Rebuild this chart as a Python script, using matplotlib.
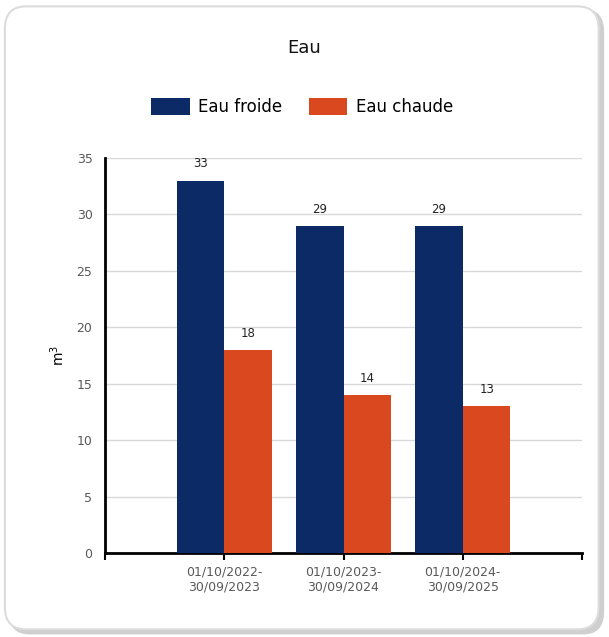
import numpy as np
import matplotlib.pyplot as plt
from matplotlib.patches import FancyBboxPatch, Patch

# Données
periodes = ['01/10/2022-\n30/09/2023', '01/10/2023-\n30/09/2024', '01/10/2024-\n30/09/2025']
eau_froide = [33, 29, 29]
eau_chaude = [18, 14, 13]

couleur_froide = '#0c2a66'
couleur_chaude = '#d9481f'

fig = plt.figure(figsize=(6.09, 6.37), dpi=100)

# Cadre arrondi avec ombre (derrière les axes)
ombre = FancyBboxPatch((0.014, 0.004), 0.978, 0.982, boxstyle='round,pad=0,rounding_size=0.035',
                       transform=fig.transFigure, facecolor='#cfcfcf', edgecolor='none', zorder=-2)
cadre = FancyBboxPatch((0.008, 0.012), 0.975, 0.978, boxstyle='round,pad=0,rounding_size=0.035',
                       transform=fig.transFigure, facecolor='white', edgecolor='#dcdcdc', lw=1.5, zorder=-1)
fig.patches.extend([ombre, cadre])

ax = fig.add_axes([0.1724, 0.1319, 0.7833, 0.6201])
ax.set_facecolor('none')

x = np.arange(1, len(periodes) + 1)
largeur = 0.4
b1 = ax.bar(x - largeur / 2, eau_froide, largeur, color=couleur_froide, zorder=3)
b2 = ax.bar(x + largeur / 2, eau_chaude, largeur, color=couleur_chaude, zorder=3)

for barres in (b1, b2):
    for b in barres:
        ax.text(b.get_x() + b.get_width() / 2, b.get_height() + 0.9, f'{b.get_height():g}',
                ha='center', va='bottom', fontsize=8.5, color='#222222')

ax.set_xlim(0, 4)
ax.set_ylim(0, 35)
ax.set_yticks(range(0, 36, 5))
ax.set_xticks([0, 1, 2, 3, 4])
ax.set_xticklabels([''] + periodes + [''])
ax.grid(axis='y', color='#d9d9d9', lw=1, zorder=0)

for s in ['top', 'right']:
    ax.spines[s].set_visible(False)
ax.spines['left'].set_linewidth(2)
ax.spines['bottom'].set_linewidth(2)
ax.tick_params(axis='y', length=0, labelsize=9, labelcolor='#595959', pad=9)
ax.tick_params(axis='x', length=5, width=1.5, labelsize=9, labelcolor='#595959', pad=4)

ax.set_ylabel('m$^3$', fontsize=10, labelpad=7)

fig.text(0.5, 0.925, 'Eau', ha='center', va='center', fontsize=13, color='#111111')
poignees = [Patch(facecolor=couleur_froide), Patch(facecolor=couleur_chaude)]
fig.legend(poignees, ['Eau froide', 'Eau chaude'], loc='center', bbox_to_anchor=(0.496, 0.832),
           ncol=2, frameon=False, fontsize=12, handlelength=2.3, handleheight=1.2,
           columnspacing=1.6, handletextpad=0.5)

fig.savefig('out.png', dpi=100)
